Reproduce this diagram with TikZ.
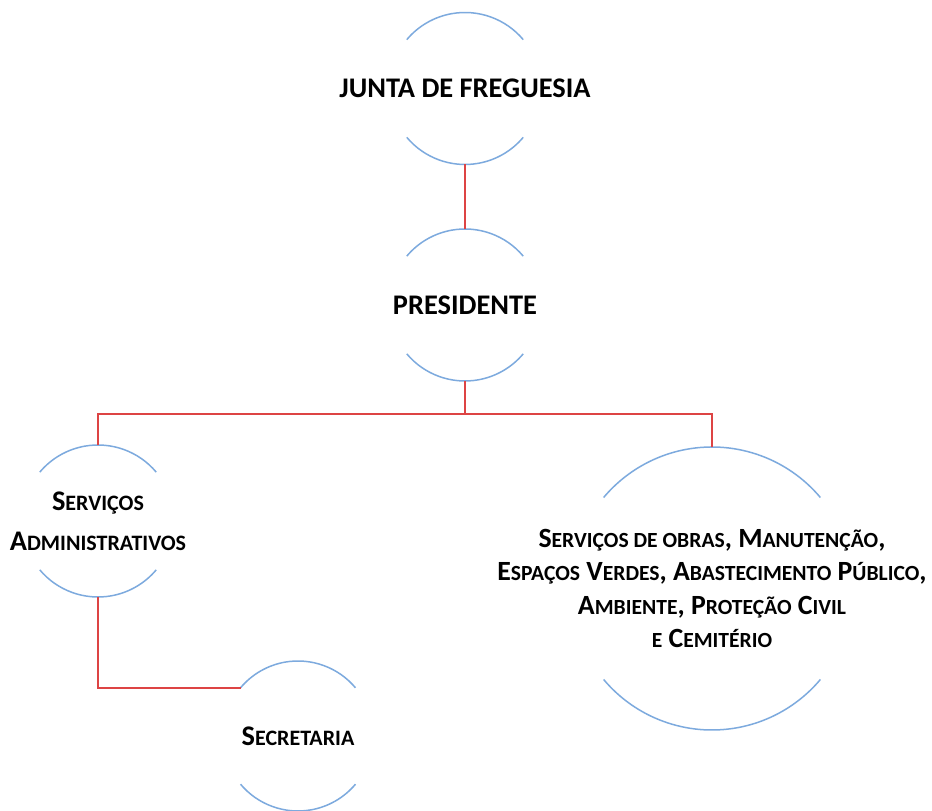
\documentclass[tikz,border=0pt]{standalone}
\usepackage{fontspec}
\setmainfont{Carlito}
\usetikzlibrary{calc}

\definecolor{arcColor}{RGB}{125,170,222}
\definecolor{lineColor}{RGB}{221,68,68}

% small caps by hand
\newcommand{\lowsz}{22}
\newcommand{\lowc}[1]{{\fontsize{\lowsz}{\lowsz}\selectfont #1}}

\tikzset{
  unit/.style={inner sep=0pt, outer sep=0pt, align=center,
    font=\renewcommand{\lowsz}{22}\fontsize{28.4}{40}\selectfont\bfseries},
  bigunit/.style={unit,
    font=\renewcommand{\lowsz}{21.6}\fontsize{27.8}{33.5}\selectfont\bfseries},
  arcline/.style={draw=arcColor, line width=1.5pt},
  orgline/.style={draw=lineColor, line width=1.7pt}
}

\begin{document}
\begin{tikzpicture}[x=1pt,y=1pt]
\path[use as bounding box,fill=white] (0,0) rectangle (932,811);

% units
\node[unit] (junta) at (465,722.5) {JUNTA DE FREGUESIA};
\node[unit] (pres) at (465,506) {PRESIDENTE};
\node[unit] (servadm) at (98,290) {S\lowc{ERVIÇOS}\\A\lowc{DMINISTRATIVOS}};
\node[unit] (secr) at (298,75) {S\lowc{ECRETARIA}};
\node[bigunit] (obras) at (712,222.5) {S\lowc{ERVIÇOS DE OBRAS}, M\lowc{ANUTENÇÃO},\\
  E\lowc{SPAÇOS} V\lowc{ERDES}, A\lowc{BASTECIMENTO} P\lowc{ÚBLICO},\\
  A\lowc{MBIENTE}, P\lowc{ROTEÇÃO} C\lowc{IVIL}\\
  \lowc{E} C\lowc{EMITÉRIO}};

% arcs above and below each unit
\foreach \n/\r in {junta/76, pres/76, servadm/76, secr/75, obras/141.5}{
  \path[arcline] (\n.center) ++(40:\r) arc[start angle=40, end angle=140, radius=\r];
  \path[arcline] (\n.center) ++(220:\r) arc[start angle=220, end angle=320, radius=\r];
}

% connectors
\coordinate (bus) at ($(pres.center)+(0,-109)$);
\path[orgline] ($(junta.center)+(0,-76)$) -- ($(pres.center)+(0,76)$);
\path[orgline] ($(pres.center)+(0,-76)$) -- (bus);
\path[orgline] ($(servadm.center)+(0,76)$) |- (bus) -| ($(obras.center)+(0,141.5)$);
\path[orgline] ($(servadm.center)+(0,-76)$) |- ($(secr.center)+(140:75)$);
\end{tikzpicture}
\end{document}
